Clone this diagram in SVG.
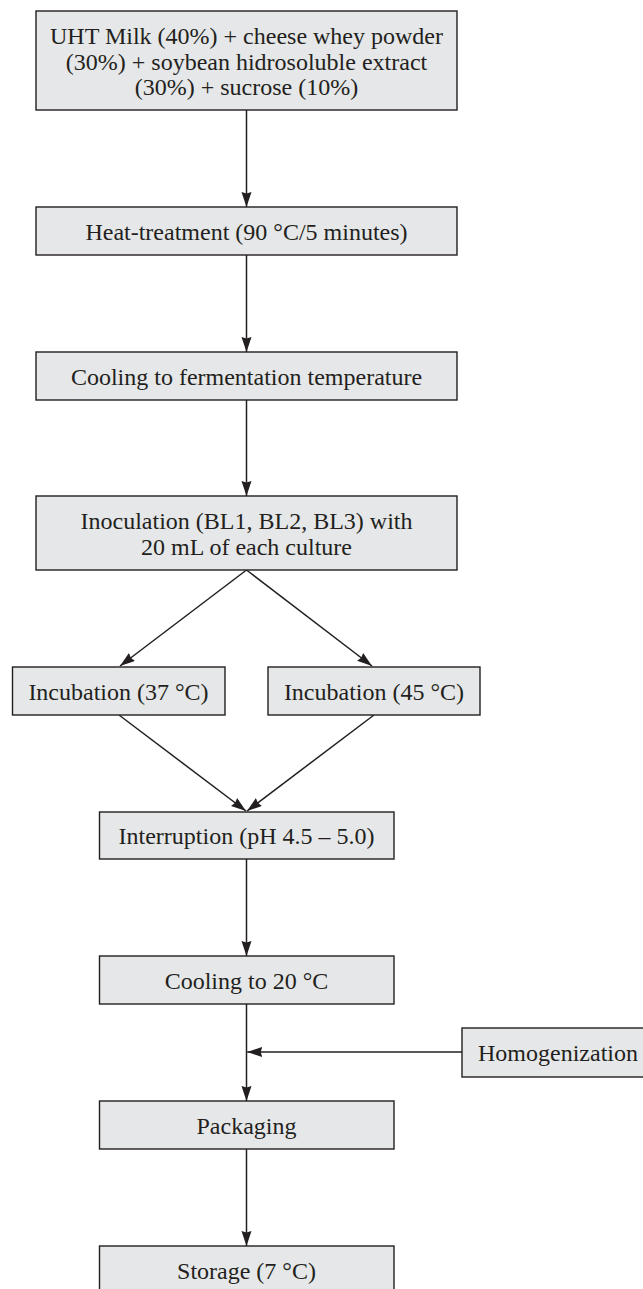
<svg xmlns="http://www.w3.org/2000/svg" width="643" height="1289" viewBox="0 0 643 1289">
<style>
.box{fill:#e6e7e8;stroke:#231f20;stroke-width:1.4}
.t{font-family:"Liberation Serif","Times New Roman",serif;font-size:24px;fill:#231f20;text-anchor:middle}
.c{stroke:#231f20;stroke-width:1.5;fill:none}
</style>
<defs>
<marker id="ah" markerUnits="userSpaceOnUse" markerWidth="16" markerHeight="12" refX="15" refY="5" orient="auto">
<path d="M0,0 L15,5 L0,10 L1.5,5 z" fill="#231f20"/>
</marker>
</defs>
<rect width="643" height="1289" fill="#ffffff"/>
<g id="connectors">
<line class="c" x1="246.5" y1="110" x2="246.5" y2="207" marker-end="url(#ah)"/>
<line class="c" x1="246.5" y1="255" x2="246.5" y2="352" marker-end="url(#ah)"/>
<line class="c" x1="246.5" y1="400" x2="246.5" y2="496" marker-end="url(#ah)"/>
<line class="c" x1="246.5" y1="570" x2="120" y2="666" marker-end="url(#ah)"/>
<line class="c" x1="246.5" y1="570" x2="372" y2="666" marker-end="url(#ah)"/>
<line class="c" x1="119" y1="715" x2="246" y2="811" marker-end="url(#ah)"/>
<line class="c" x1="374" y1="715" x2="247" y2="811" marker-end="url(#ah)"/>
<line class="c" x1="246.5" y1="859" x2="246.5" y2="956" marker-end="url(#ah)"/>
<line class="c" x1="246.5" y1="1004" x2="246.5" y2="1101" marker-end="url(#ah)"/>
<line class="c" x1="462" y1="1052" x2="247.2" y2="1052" marker-end="url(#ah)"/>
<line class="c" x1="246.5" y1="1149" x2="246.5" y2="1246" marker-end="url(#ah)"/>
</g>
<g id="n1"><rect class="box" x="36" y="11" width="421" height="99"/>
<text class="t" x="246.5" y="44">UHT Milk (40%) + cheese whey powder</text>
<text class="t" x="246.5" y="69.5">(30%) + soybean hidrosoluble extract</text>
<text class="t" x="246.5" y="95">(30%) + sucrose (10%)</text></g>
<g id="n2"><rect class="box" x="36" y="207" width="421" height="48"/>
<text class="t" x="246.5" y="240">Heat-treatment (90 °C/5 minutes)</text></g>
<g id="n3"><rect class="box" x="36" y="352" width="421" height="48"/>
<text class="t" x="246.5" y="385">Cooling to fermentation temperature</text></g>
<g id="n4"><rect class="box" x="36" y="496" width="421" height="74"/>
<text class="t" x="246.5" y="529">Inoculation (BL1, BL2, BL3) with</text>
<text class="t" x="246.5" y="554.5">20 mL of each culture</text></g>
<g id="n5"><rect class="box" x="12.5" y="667" width="212.5" height="48"/>
<text class="t" x="118.5" y="699.5">Incubation (37 °C)</text></g>
<g id="n6"><rect class="box" x="268" y="667" width="212" height="48"/>
<text class="t" x="374" y="699.5">Incubation (45 °C)</text></g>
<g id="n7"><rect class="box" x="99.5" y="812" width="294.5" height="47"/>
<text class="t" x="246.5" y="844">Interruption (pH 4.5 – 5.0)</text></g>
<g id="n8"><rect class="box" x="99.5" y="956" width="294.5" height="48"/>
<text class="t" x="246.5" y="989">Cooling to 20 °C</text></g>
<g id="n9"><rect class="box" x="462" y="1028" width="195" height="49"/>
<text class="t" x="558" y="1061">Homogenization</text></g>
<g id="n10"><rect class="box" x="99.5" y="1101" width="294.5" height="48"/>
<text class="t" x="246.5" y="1134">Packaging</text></g>
<g id="n11"><rect class="box" x="99.5" y="1246" width="294.5" height="48"/>
<text class="t" x="246.5" y="1279">Storage (7 °C)</text></g>
</svg>
